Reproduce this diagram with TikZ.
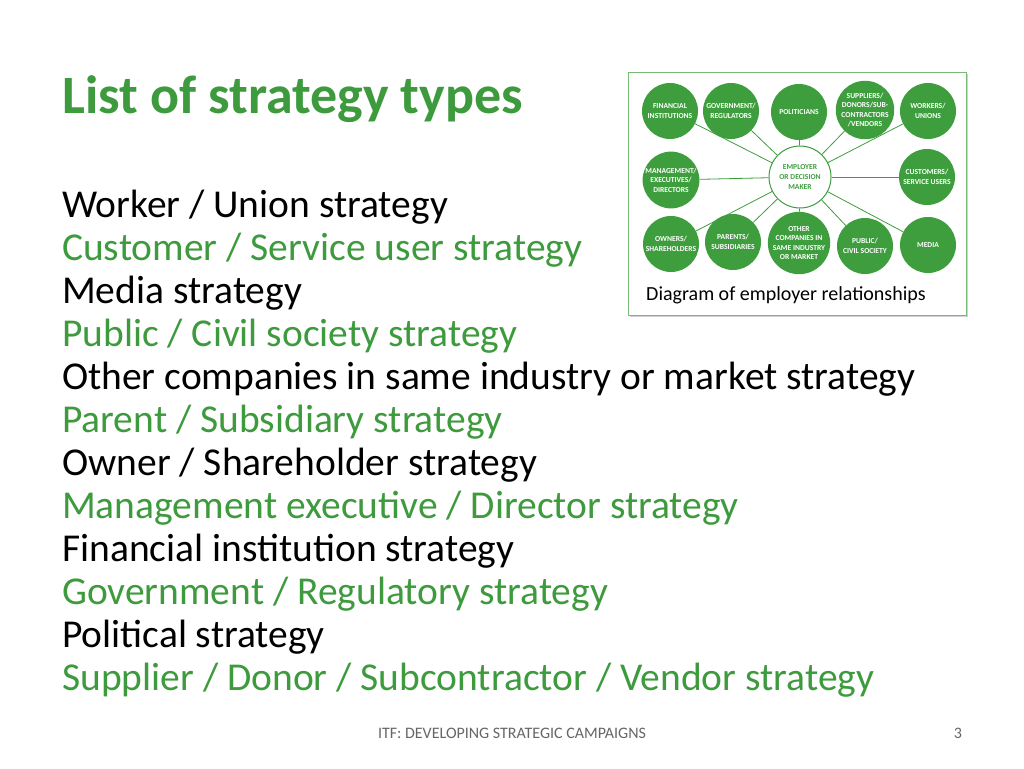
\documentclass[tikz,border=0pt]{standalone}
\usepackage{fontspec}
\setmainfont{Carlito}
\begin{document}
\definecolor{gr}{HTML}{3D9A3D}
\definecolor{cg}{HTML}{3E9E3E}
\begin{tikzpicture}[x=1pt,y=-1pt,
 sat/.style={circle,fill=cg,minimum size=56pt,inner sep=0pt,align=center,text=white,font=\fontsize{7.6}{9.6}\selectfont\bfseries},
 hub/.style={circle,draw=cg,line width=1pt,fill=white,minimum size=62pt,inner sep=0pt,align=center,text=cg,font=\fontsize{7.6}{9.6}\selectfont\bfseries},
 spoke/.style={draw=cg,line width=0.8pt},
 item/.style={anchor=base west,inner sep=0pt,font=\fontsize{39.5}{46}\selectfont}]
\useasboundingbox (0,0) rectangle (1024,768);
\fill[white] (0,0) rectangle (1024,768);
\node[anchor=base west,inner sep=0pt,text=gr,font=\fontsize{54}{60}\selectfont\bfseries] (title) at (62,113) {List of strategy types};
\node[item] (l1) at (62,217) {Worker / Union strategy};
\node[item,text=gr] (l2) at (62,260) {Customer / Service user strategy};
\node[item] (l3) at (62,303) {Media strategy};
\node[item,text=gr] (l4) at (62,346) {Public / Civil society strategy};
\node[item] (l5) at (62,389) {Other companies in same industry or market strategy};
\node[item,text=gr] (l6) at (62,432) {Parent / Subsidiary strategy};
\node[item] (l7) at (62,475) {Owner / Shareholder strategy};
\node[item,text=gr] (l8) at (62,518) {Management executive / Director strategy};
\node[item] (l9) at (62,561) {Financial institution strategy};
\node[item,text=gr] (l10) at (62,604) {Government / Regulatory strategy};
\node[item] (l11) at (62,647) {Political strategy};
\node[item,text=gr] (l12) at (62,690) {Supplier / Donor / Subcontractor / Vendor strategy};
% diagram frame
\fill[black!18] (630,74) rectangle (968,317);
\draw[draw=cg!70,fill=white,line width=0.8pt] (628,72) rectangle (966,315);
\node[hub] (c) at (800,177) {EMPLOYER\\OR DECISION\\MAKER};
\node[sat] (a1) at (670,111) {FINANCIAL\\INSTITUTIONS};
\node[sat] (a2) at (731,111) {GOVERNMENT/\\REGULATORS};
\node[sat] (a3) at (799,112) {POLITICIANS};
\node[sat] (a4) at (865,110) {SUPPLIERS/\\DONORS/SUB-\\CONTRACTORS\\/VENDORS};
\node[sat] (a5) at (928,111) {WORKERS/\\UNIONS};
\node[sat] (b1) at (671,180) {MANAGEMENT/\\EXECUTIVES/\\DIRECTORS};
\node[sat] (b2) at (927,177) {CUSTOMERS/\\SERVICE USERS};
\node[sat] (d1) at (671,244) {OWNERS/\\SHAREHOLDERS};
\node[sat] (d2) at (733,242) {PARENTS/\\SUBSIDIARIES};
\node[sat] (d3) at (799,243) {OTHER\\COMPANIES IN\\SAME INDUSTRY\\OR MARKET};
\node[sat] (d4) at (865,246) {PUBLIC/\\CIVIL SOCIETY};
\node[sat] (d5) at (928,245) {MEDIA};
\foreach \n in {a1,a2,a3,a4,a5,b1,b2,d1,d2,d3,d4,d5}{\draw[spoke] (c) -- (\n);}
\node[anchor=base west,inner sep=0pt,font=\fontsize{20}{24}\selectfont] (cap) at (646,300) {Diagram of employer relationships};
\node[text=black!60,font=\fontsize{16}{18}\selectfont,inner sep=0pt] (foot) at (512,733) {ITF: DEVELOPING STRATEGIC CAMPAIGNS};
\node[text=black!60,font=\fontsize{16}{18}\selectfont,inner sep=0pt] (pg) at (958,733) {3};
\end{tikzpicture}
\end{document}
